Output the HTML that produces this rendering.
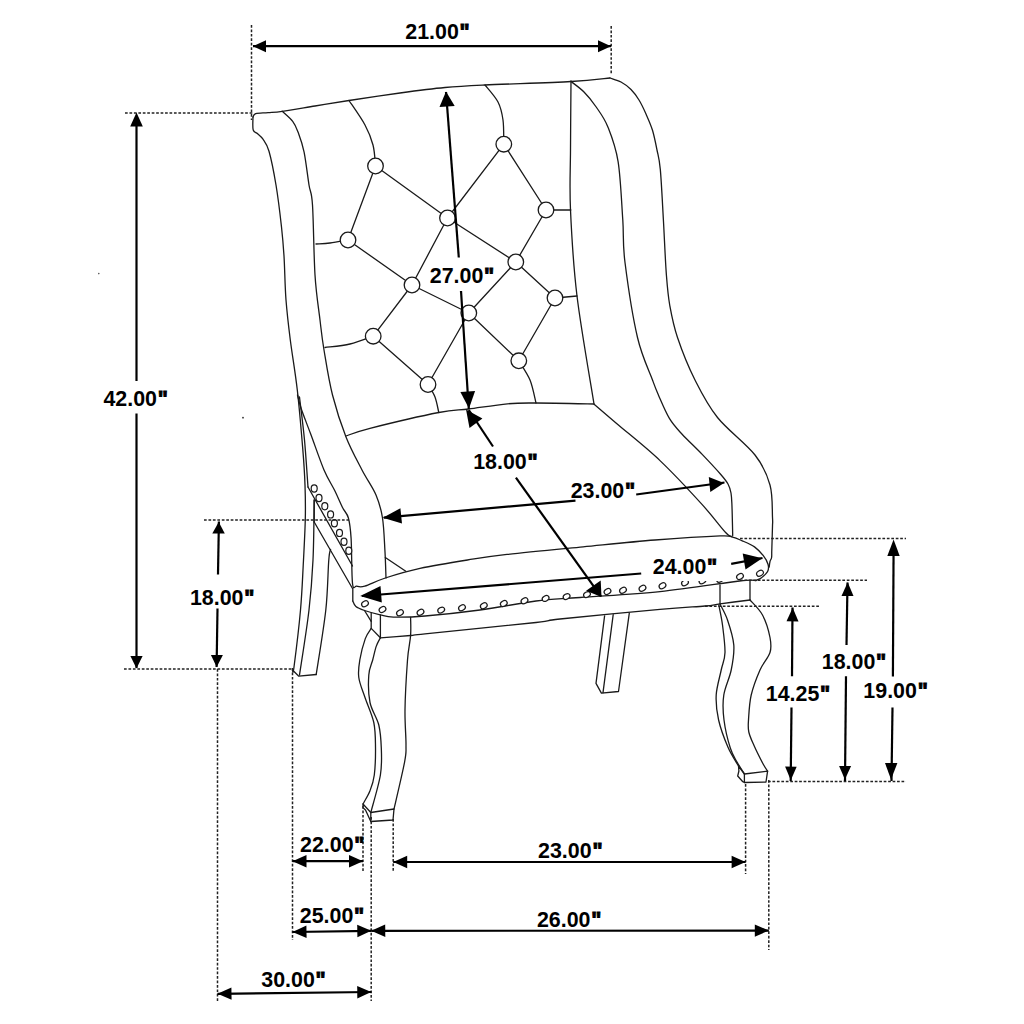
<!DOCTYPE html><html><head><meta charset="utf-8"><style>html,body{margin:0;padding:0;background:#fff;}svg{display:block;}</style></head><body>
<svg width="1024" height="1024" viewBox="0 0 1024 1024">
<rect width="1024" height="1024" fill="#fff"/>
<g fill="none" stroke="#1a1a1a" stroke-width="1.3" stroke-linejoin="round" stroke-linecap="round">
<path d="M253.0,117.0 C253.5,116.4 253.3,114.3 255.8,113.6 C258.3,112.9 263.6,113.0 268.0,112.6 C272.4,112.2 274.4,112.4 282.2,111.3 C290.0,110.2 303.9,107.8 315.0,106.0 C326.1,104.2 334.8,102.7 349.0,100.5 C363.2,98.3 384.0,95.2 400.0,93.0 C416.0,90.8 430.8,88.8 445.0,87.5 C459.2,86.2 464.0,86.0 485.0,85.0 C506.0,84.0 550.2,82.7 571.0,81.5 C591.8,80.3 603.5,78.6 610.0,78.0"/>
<path d="M253.0,117.0 C253.0,119.2 252.4,127.2 253.2,130.0 C254.0,132.8 256.0,132.2 257.6,133.7 C259.2,135.2 260.9,136.0 262.8,138.9 C264.7,141.8 266.8,143.5 269.0,151.2 C271.2,158.9 273.9,172.4 276.0,185.0 C278.1,197.6 280.2,215.2 281.5,227.0 C282.8,238.8 283.2,243.8 284.0,256.0 C284.8,268.2 284.9,286.0 286.0,300.0 C287.1,314.0 288.4,325.0 290.3,340.0 C292.2,355.0 295.2,371.8 297.3,390.0 C299.4,408.2 301.5,433.6 302.8,449.4 C304.1,465.2 304.6,473.4 305.0,485.0 C305.4,496.6 305.6,505.6 305.3,519.0 C305.0,532.5 304.0,550.5 303.2,565.7 C302.4,580.9 302.0,593.1 300.5,610.0 C299.0,626.9 295.3,657.0 294.0,667.0 C292.7,677.0 292.8,669.5 292.5,670.0"/>
<path d="M299.5,397.0 C300.3,404.2 303.1,425.0 304.5,440.0 C305.9,455.0 307.4,479.2 308.0,487.0"/>
<path d="M297.5,395.0 C298.1,397.3 299.1,402.3 301.2,408.8 C303.4,415.2 306.8,423.6 310.6,433.8 C314.4,443.9 319.9,460.2 323.9,469.7 C327.9,479.2 331.6,484.2 334.7,490.5 C337.8,496.8 340.2,502.9 342.5,507.5 C344.8,512.1 347.0,512.9 348.4,518.0 C349.8,523.1 350.4,527.5 351.1,538.4 C351.8,549.3 351.6,575.5 352.5,583.5 C353.4,591.5 354.6,585.8 356.6,586.2 C358.7,586.7 360.0,587.6 364.8,586.2 C369.6,584.8 376.1,581.0 385.3,578.0 C394.5,575.0 406.3,571.4 420.0,568.4 C433.7,565.4 453.0,562.3 467.5,560.0 C482.0,557.7 487.7,556.6 507.0,554.4 C526.3,552.2 558.4,549.2 583.1,546.8 C607.8,544.4 632.1,541.8 655.0,540.0 C677.9,538.2 707.3,536.4 720.2,535.9 C733.1,535.4 728.8,536.4 732.5,537.2 C736.2,538.0 738.5,539.2 742.2,540.8 C745.9,542.4 751.0,544.4 754.5,546.9 C758.0,549.4 761.0,552.8 763.3,555.7 C765.6,558.6 767.4,561.9 768.1,564.5 C768.8,567.1 768.7,569.3 767.6,571.5 C766.5,573.7 763.4,576.2 761.5,577.7 C759.6,579.2 756.9,580.0 756.0,580.5"/>
<path d="M314.2,500.0 L314.2,522.0"/>
<path d="M352.8,601.0 C353.3,601.9 353.9,605.0 355.9,606.6 C357.8,608.2 360.4,609.1 364.5,610.5 C368.6,611.9 375.4,613.7 380.2,614.8 C385.0,615.9 385.9,616.9 393.4,617.1 C400.9,617.3 410.6,617.2 425.0,616.0 C439.4,614.8 461.5,612.5 480.0,610.0 C498.5,607.5 519.3,603.1 536.0,601.0 C552.7,598.9 559.3,599.1 580.0,597.5 C600.7,595.9 633.4,594.4 660.0,591.6 C686.6,588.9 723.5,582.9 739.5,581.0 C755.5,579.1 753.2,580.6 756.0,580.5"/>
<path d="M314.2,500.0 C314.0,510.0 313.9,541.7 313.0,560.0 C312.1,578.3 311.2,590.8 309.0,610.0 C306.8,629.2 301.1,664.2 299.5,675.0"/>
<path d="M330.6,549.3 C330.3,551.1 329.6,549.9 328.8,560.0 C327.9,570.1 327.9,590.9 325.8,610.0 C323.7,629.1 317.8,663.8 316.2,674.5"/>
<path d="M282.2,111.3 C283.9,113.0 290.1,118.0 292.7,121.4 C295.3,124.8 296.1,126.8 298.0,131.9 C299.9,137.0 302.3,143.2 304.1,152.1 C305.9,160.9 307.6,176.2 309.0,185.0 C310.4,193.8 311.5,190.0 312.5,205.0 C313.5,220.0 313.8,255.8 315.0,275.0 C316.2,294.2 318.5,307.5 320.0,320.0 C321.5,332.5 321.9,337.5 324.0,350.0 C326.1,362.5 328.8,380.5 332.5,395.0 C336.2,409.5 341.1,424.5 346.0,437.0 C350.9,449.5 357.0,460.3 362.0,470.0 C367.0,479.7 372.6,487.0 376.0,495.0 C379.4,503.0 381.0,508.5 382.5,518.0 C384.0,527.5 384.4,542.0 385.0,552.0 C385.6,562.0 385.8,573.7 386.0,578.0"/>
<path d="M610.0,78.0 C611.8,78.7 617.5,80.1 621.0,82.0 C624.5,83.9 628.0,86.5 631.0,89.5 C634.0,92.5 636.5,95.9 639.0,100.0 C641.5,104.1 643.8,109.0 646.0,114.0 C648.2,119.0 650.7,124.3 652.5,130.3 C654.3,136.3 655.7,143.5 657.0,150.0 C658.3,156.5 659.2,157.7 660.3,169.4 C661.4,181.1 662.4,202.4 663.4,220.0 C664.4,237.6 665.3,260.8 666.4,275.0 C667.5,289.2 667.9,294.6 669.7,305.0 C671.6,315.4 673.3,325.0 677.5,337.5 C681.7,350.0 688.3,366.7 695.0,380.0 C701.7,393.3 707.5,405.0 717.5,417.5 C727.5,430.0 746.2,443.8 755.0,455.0 C763.8,466.2 767.1,474.6 770.0,485.0 C772.9,495.4 772.1,510.7 772.5,517.5 C772.9,524.3 772.6,520.6 772.5,526.0 C772.4,531.4 771.9,544.8 771.8,550.0 C771.6,555.2 771.9,555.6 771.6,557.5 C771.3,559.4 770.4,559.9 770.0,561.5 C769.6,563.1 769.3,566.1 769.2,567.0"/>
<path d="M571.0,81.5 C573.2,83.2 579.8,87.8 584.0,92.0 C588.2,96.2 592.2,101.1 596.2,107.0 C600.2,112.9 604.4,118.1 608.0,127.2 C611.6,136.3 615.6,146.1 618.1,161.6 C620.6,177.1 621.6,203.2 622.8,220.0 C623.9,236.8 622.5,242.9 625.0,262.5 C627.5,282.1 632.9,317.9 637.5,337.5 C642.1,357.1 649.0,370.4 652.5,380.0 C656.0,389.6 655.6,388.6 658.4,395.0 C661.2,401.4 665.5,411.9 669.4,418.4 C673.3,424.9 676.4,428.0 681.9,434.0 C687.4,440.0 695.7,447.6 702.2,454.4 C708.7,461.2 716.7,469.8 721.0,474.7 C725.3,479.6 726.3,480.9 728.0,484.0 C729.7,487.1 730.4,489.6 731.0,493.0 C731.6,496.4 731.6,497.3 731.9,504.4 C732.2,511.5 732.6,530.4 732.7,535.6"/>
<path d="M571.0,81.0 C570.9,92.5 570.6,128.5 570.5,150.0 C570.4,171.5 569.4,185.7 570.5,210.0 C571.6,234.3 573.1,263.7 577.0,296.0 C580.9,328.3 591.2,386.0 594.0,404.0"/>
<path d="M346.0,436.0 C350.0,434.7 354.5,432.2 370.0,428.3 C385.5,424.4 422.3,415.7 438.8,412.5 C455.2,409.3 457.3,410.5 468.8,409.0 C480.2,407.5 496.3,404.8 507.5,403.8 C518.7,402.8 521.6,403.0 536.0,403.0 C550.4,403.0 584.3,403.8 594.0,404.0"/>
<path d="M594.4,404.4 C598.0,407.5 605.1,413.6 616.0,423.0 C626.9,432.4 645.7,447.0 660.0,460.6 C674.3,474.2 691.1,492.4 702.0,504.4 C712.9,516.4 720.6,527.2 725.6,532.5 C730.6,537.8 730.9,535.8 732.0,536.4"/>
<path d="M380.4,637.8 C385.4,637.4 403.2,636.1 410.6,635.5 C418.0,634.9 404.1,636.1 425.0,633.9 C445.9,631.7 513.5,625.0 536.0,622.5 C558.5,620.0 539.3,621.2 560.0,619.0 C580.7,616.8 635.8,611.5 660.0,609.3 C684.2,607.1 695.0,606.9 705.0,606.0 C715.0,605.1 712.5,604.8 720.0,603.8 C727.5,602.8 745.0,600.6 750.0,600.0"/>
<path d="M410.6,617.5 C410.6,620.5 411.1,628.4 410.6,635.5 C410.1,642.6 408.4,647.6 407.5,660.0 C406.6,672.4 405.2,695.8 405.0,710.0 C404.8,724.2 406.1,736.3 406.0,745.0 C405.9,753.7 406.6,751.3 404.6,762.0 C402.6,772.7 395.8,801.2 394.0,809.0"/>
<path d="M371.2,628.4 C370.2,630.1 367.2,633.3 365.3,638.6 C363.4,643.9 360.9,653.5 359.8,660.0 C358.7,666.5 357.9,671.2 358.8,677.5 C359.6,683.8 362.5,690.0 365.0,697.5 C367.5,705.0 372.0,714.2 373.8,722.5 C375.5,730.8 375.4,738.2 375.5,747.0 C375.6,755.8 375.2,767.7 374.3,775.0 C373.4,782.3 371.8,786.2 369.9,791.0 C368.0,795.8 364.1,801.8 363.0,804.0"/>
<path d="M380.4,637.8 C379.7,639.2 377.5,642.7 376.2,646.4 C375.0,650.1 373.9,655.2 372.7,660.0 C371.4,664.8 369.2,667.9 368.8,675.0 C368.3,682.1 368.3,694.2 370.0,702.5 C371.7,710.8 376.9,717.4 378.8,725.0 C380.6,732.6 381.0,739.7 381.3,748.0 C381.6,756.3 382.1,764.2 380.4,775.0 C378.6,785.8 372.4,806.2 370.8,812.5"/>
<path d="M750.0,600.0 C752.1,602.5 759.2,608.8 762.5,615.0 C765.8,621.2 768.8,631.2 770.0,637.5 C771.2,643.8 771.7,647.1 770.0,652.5 C768.3,657.9 763.1,662.9 760.0,670.0 C756.9,677.1 753.2,686.7 751.2,695.0 C749.3,703.3 748.9,713.8 748.5,720.0 C748.1,726.2 747.9,727.8 748.8,732.0 C749.7,736.2 751.4,739.7 753.8,745.0 C756.1,750.3 760.7,759.4 763.0,763.8 C765.3,768.1 766.8,770.0 767.6,771.2"/>
<path d="M720.0,604.0 C721.2,606.7 725.2,613.2 727.5,620.0 C729.8,626.8 733.1,636.7 733.8,645.0 C734.4,653.3 732.9,661.7 731.2,670.0 C729.6,678.3 725.0,686.7 723.8,695.0 C722.5,703.3 722.9,711.2 724.0,720.0 C725.1,728.8 728.1,741.0 730.3,748.0 C732.5,755.0 734.6,757.7 737.0,762.0 C739.4,766.3 743.2,772.0 744.4,774.0"/>
<path d="M718.8,605.0 C719.4,608.3 721.5,617.1 722.5,625.0 C723.5,632.9 725.2,645.0 725.0,652.5 C724.8,660.0 722.7,662.9 721.2,670.0 C719.8,677.1 716.7,686.7 716.2,695.0 C715.8,703.3 716.6,711.3 718.6,720.0 C720.6,728.7 724.7,739.6 728.0,747.3 C731.3,755.0 736.8,762.9 738.5,766.0"/>
<path d="M349.0,100.5 C351.7,104.6 361.0,117.6 365.0,125.0 C369.0,132.4 371.2,138.2 373.0,145.0 C374.8,151.8 375.1,162.5 375.5,166.0"/>
<path d="M485.0,85.0 C487.2,87.8 495.0,96.2 498.0,102.0 C501.0,107.8 502.0,113.0 503.0,120.0 C504.0,127.0 503.6,140.0 503.8,144.0"/>
<path d="M348.0,240.0 C345.0,240.5 335.3,242.3 330.0,243.0 C324.7,243.7 318.3,243.8 316.0,244.0"/>
<path d="M373.2,336.2 C369.4,337.5 358.0,342.1 350.0,344.0 C342.0,345.9 329.2,346.9 325.0,347.5"/>
<path d="M428.0,384.5 C429.2,386.6 433.2,392.3 435.0,397.0 C436.8,401.7 438.1,409.9 438.8,412.5"/>
<path d="M518.8,360.8 C520.6,364.0 527.1,373.0 530.0,380.0 C532.9,387.0 535.0,399.2 536.0,403.0"/>
<path d="M292.5,670.0 L298.8,676.2 L316.2,674.5"/>
<path d="M308.0,487.0 L352.5,566.0"/>
<path d="M314.2,522.0 L352.8,589.0 L352.8,601.0"/>
<path d="M385.3,557.5 L405.8,571.2"/>
<path d="M364.5,610.5 L371.2,621.4"/>
<path d="M371.2,612.8 L371.2,628.4 L380.4,637.8"/>
<path d="M380.4,615.0 L380.4,637.8"/>
<path d="M750.0,581.0 L750.0,600.0"/>
<path d="M720.0,585.0 L720.0,603.8"/>
<path d="M363.0,804.0 L363.0,807.7 L365.5,810.0 L370.8,821.5 L393.0,820.0 L394.0,809.0 L370.8,812.5 L363.0,804.0"/>
<path d="M370.8,812.5 L370.8,821.5"/>
<path d="M738.5,766.0 L738.9,771.0 L737.7,776.0 L742.8,781.7 L744.4,782.5 L766.0,782.0 L767.6,771.2 L744.4,774.0 L738.5,766.0"/>
<path d="M744.4,774.0 L744.4,782.5"/>
<path d="M604.6,615.8 L596.0,683.4 L601.4,693.1 L618.5,691.5 L629.3,613.1"/>
<path d="M613.2,614.7 L603.0,692.6"/>
<path d="M375.5,166.0 L348.0,240.0"/>
<path d="M375.5,166.0 L447.5,218.0"/>
<path d="M503.8,144.2 L447.5,218.0"/>
<path d="M503.8,144.2 L546.0,210.0"/>
<path d="M348.0,240.0 L412.0,285.0"/>
<path d="M447.5,218.0 L412.0,285.0"/>
<path d="M447.5,218.0 L515.8,262.0"/>
<path d="M546.0,210.0 L515.8,262.0"/>
<path d="M412.0,285.0 L373.2,336.2"/>
<path d="M412.0,285.0 L468.8,313.0"/>
<path d="M515.8,262.0 L468.8,313.0"/>
<path d="M515.8,262.0 L555.0,298.0"/>
<path d="M373.2,336.2 L428.0,384.5"/>
<path d="M468.8,313.0 L428.0,384.5"/>
<path d="M468.8,313.0 L518.8,360.8"/>
<path d="M555.0,298.0 L518.8,360.8"/>
<path d="M546.0,210.0 L570.8,210.0"/>
<path d="M555.0,298.0 L577.0,296.0"/>
</g>
<g fill="#fff" stroke="#1a1a1a" stroke-width="1.3">
<circle cx="375.5" cy="166.0" r="7.8"/>
<circle cx="503.8" cy="144.2" r="7.8"/>
<circle cx="348.0" cy="240.0" r="7.8"/>
<circle cx="447.5" cy="218.0" r="7.8"/>
<circle cx="546.0" cy="210.0" r="7.8"/>
<circle cx="412.0" cy="285.0" r="7.8"/>
<circle cx="515.8" cy="262.0" r="7.8"/>
<circle cx="373.2" cy="336.2" r="7.8"/>
<circle cx="468.8" cy="313.0" r="7.8"/>
<circle cx="555.0" cy="298.0" r="7.8"/>
<circle cx="428.0" cy="384.5" r="7.8"/>
<circle cx="518.8" cy="360.8" r="7.8"/>
</g>
<g fill="#fff" stroke="#1a1a1a" stroke-width="1.2">
<ellipse cx="365.0" cy="603.8" rx="3.6" ry="2.6" transform="rotate(-30 365.0 603.8)"/>
<ellipse cx="382.5" cy="609.5" rx="3.6" ry="2.6" transform="rotate(-30 382.5 609.5)"/>
<ellipse cx="400.0" cy="612.8" rx="3.6" ry="2.6" transform="rotate(-30 400.0 612.8)"/>
<ellipse cx="420.5" cy="612.3" rx="3.6" ry="2.6" transform="rotate(-30 420.5 612.3)"/>
<ellipse cx="441.2" cy="610.1" rx="3.6" ry="2.6" transform="rotate(-30 441.2 610.1)"/>
<ellipse cx="462.0" cy="607.8" rx="3.6" ry="2.6" transform="rotate(-30 462.0 607.8)"/>
<ellipse cx="483.8" cy="605.8" rx="3.6" ry="2.6" transform="rotate(-30 483.8 605.8)"/>
<ellipse cx="503.8" cy="603.5" rx="3.6" ry="2.6" transform="rotate(-30 503.8 603.5)"/>
<ellipse cx="524.5" cy="600.8" rx="3.6" ry="2.6" transform="rotate(-30 524.5 600.8)"/>
<ellipse cx="545.6" cy="598.4" rx="3.6" ry="2.6" transform="rotate(-30 545.6 598.4)"/>
<ellipse cx="566.6" cy="596.6" rx="3.6" ry="2.6" transform="rotate(-30 566.6 596.6)"/>
<ellipse cx="587.0" cy="594.6" rx="3.6" ry="2.6" transform="rotate(-30 587.0 594.6)"/>
<ellipse cx="607.5" cy="591.5" rx="3.6" ry="2.6" transform="rotate(-30 607.5 591.5)"/>
<ellipse cx="623.0" cy="590.3" rx="3.6" ry="2.6" transform="rotate(-30 623.0 590.3)"/>
<ellipse cx="642.5" cy="588.3" rx="3.6" ry="2.6" transform="rotate(-30 642.5 588.3)"/>
<ellipse cx="662.5" cy="585.8" rx="3.6" ry="2.6" transform="rotate(-30 662.5 585.8)"/>
<ellipse cx="685.0" cy="582.8" rx="3.6" ry="2.6" transform="rotate(-30 685.0 582.8)"/>
<ellipse cx="702.5" cy="580.8" rx="3.6" ry="2.6" transform="rotate(-30 702.5 580.8)"/>
<ellipse cx="720.0" cy="579.3" rx="3.6" ry="2.6" transform="rotate(-30 720.0 579.3)"/>
<ellipse cx="740.0" cy="576.5" rx="3.6" ry="2.6" transform="rotate(-30 740.0 576.5)"/>
<ellipse cx="760.0" cy="573.3" rx="3.6" ry="2.6" transform="rotate(-30 760.0 573.3)"/>
<ellipse cx="314.2" cy="488.5" rx="3" ry="3.6"/>
<ellipse cx="319.0" cy="498.0" rx="3" ry="3.6"/>
<ellipse cx="324.8" cy="506.2" rx="3" ry="3.6"/>
<ellipse cx="330.6" cy="514.4" rx="3" ry="3.6"/>
<ellipse cx="334.4" cy="523.3" rx="3" ry="3.6"/>
<ellipse cx="339.5" cy="532.9" rx="3" ry="3.6"/>
<ellipse cx="344.0" cy="541.8" rx="3" ry="3.6"/>
<ellipse cx="348.8" cy="550.7" rx="3" ry="3.6"/>
</g>
<rect x="641" y="548" width="88" height="33" fill="#fff"/>
<circle cx="98.8" cy="273.6" r="0.8" fill="#555"/><circle cx="243" cy="417.7" r="0.9" fill="#333"/>
<g stroke="#222" stroke-width="1.5" stroke-dasharray="2.7 1.75" fill="none">
<path d="M251.5,25.0 L251.5,120.0"/>
<path d="M125.0,113.0 L254.0,113.0"/>
<path d="M611.2,26.0 L611.2,75.0"/>
<path d="M204.0,520.0 L349.0,520.0"/>
<path d="M124.0,669.0 L292.0,669.0"/>
<path d="M217.5,669.0 L217.5,1001.0"/>
<path d="M292.5,668.0 L292.5,940.0"/>
<path d="M363.0,806.0 L363.0,871.0"/>
<path d="M371.2,817.0 L371.2,1001.0"/>
<path d="M393.2,819.0 L393.2,871.0"/>
<path d="M740.0,538.5 L906.0,538.5"/>
<path d="M740.0,580.3 L867.0,580.3"/>
<path d="M705.0,606.2 L820.0,606.2"/>
<path d="M768.0,781.5 L906.0,781.5"/>
<path d="M745.6,784.0 L745.6,874.0"/>
<path d="M768.8,780.0 L768.8,950.0"/>
</g>
<g stroke="#000" stroke-width="2.2" fill="none" stroke-linecap="butt">
<path d="M253.0,46.2 L611.0,46.2"/>
<path d="M136.5,118.0 L136.5,381.0"/>
<path d="M136.5,413.5 L136.5,668.0"/>
<path d="M446.0,92.0 L458.8,257.5"/>
<path d="M461.0,291.0 L468.8,409.0"/>
<path d="M468.8,410.0 L493.0,446.5"/>
<path d="M515.9,477.7 L600.9,596.3"/>
<path d="M383.8,517.6 L575.5,500.6"/>
<path d="M636.2,494.5 L724.5,482.5"/>
<path d="M362.0,596.0 L641.2,573.5"/>
<path d="M731.2,563.8 L762.5,558.0"/>
<path d="M218.9,521.5 L218.0,574.6"/>
<path d="M217.5,608.5 L216.6,667.1"/>
<path d="M893.6,545.0 L892.9,676.5"/>
<path d="M892.5,707.5 L891.5,781.0"/>
<path d="M847.5,582.5 L846.5,645.0"/>
<path d="M846.0,676.2 L845.0,781.0"/>
<path d="M792.5,607.5 L792.0,676.2"/>
<path d="M791.5,707.5 L790.7,781.0"/>
<path d="M292.5,861.2 L363.0,861.2"/>
<path d="M393.2,862.0 L745.6,862.0"/>
<path d="M292.5,932.0 L371.2,930.8"/>
<path d="M371.2,930.8 L768.8,930.6"/>
<path d="M217.5,993.8 L371.2,992.0"/>
</g>
<g fill="#000" stroke="none">
<path d="M253.0,46.2 L266.0,52.2 L266.0,40.2 Z"/>
<path d="M611.0,46.2 L598.0,40.2 L598.0,52.2 Z"/>
<path d="M136.5,112.5 L130.2,126.5 L142.8,126.5 Z"/>
<path d="M136.5,668.5 L142.6,656.0 L130.4,656.0 Z"/>
<path d="M446.0,91.5 L439.5,107.0 L454.7,105.9 Z"/>
<path d="M469.0,408.5 L475.1,391.0 L460.4,392.1 Z"/>
<path d="M466.0,409.5 L469.5,428.0 L482.4,418.6 Z"/>
<path d="M601.5,597.0 L600.7,580.4 L586.1,590.8 Z"/>
<path d="M382.8,517.8 L402.0,523.6 L400.4,508.2 Z"/>
<path d="M724.0,483.0 L708.8,477.0 L710.3,491.9 Z"/>
<path d="M360.2,596.0 L381.8,602.5 L380.5,586.1 Z"/>
<path d="M762.3,558.3 L742.7,553.6 L745.5,569.4 Z"/>
<path d="M218.7,522.0 L212.3,533.4 L224.8,533.6 Z"/>
<path d="M216.7,667.0 L222.9,655.1 L210.9,654.9 Z"/>
<path d="M893.6,539.5 L887.3,555.9 L899.7,556.1 Z"/>
<path d="M891.0,779.5 L897.4,763.1 L885.0,762.9 Z"/>
<path d="M847.7,582.3 L841.5,595.9 L853.5,596.1 Z"/>
<path d="M844.9,779.6 L851.1,766.1 L839.1,765.9 Z"/>
<path d="M792.7,607.7 L786.5,621.2 L798.5,621.4 Z"/>
<path d="M790.8,780.3 L796.7,766.8 L785.1,766.6 Z"/>
<path d="M292.5,861.2 L306.5,867.5 L306.5,855.0 Z"/>
<path d="M363.0,861.2 L349.0,855.0 L349.0,867.5 Z"/>
<path d="M393.2,862.0 L407.2,868.2 L407.2,855.8 Z"/>
<path d="M745.6,862.0 L731.6,855.8 L731.6,868.2 Z"/>
<path d="M292.5,932.0 L306.6,938.0 L306.4,925.6 Z"/>
<path d="M371.2,930.8 L357.2,924.8 L357.4,937.2 Z"/>
<path d="M371.2,930.8 L385.3,936.9 L385.2,924.5 Z"/>
<path d="M768.8,930.6 L754.8,924.4 L754.8,936.8 Z"/>
<path d="M217.5,993.8 L231.6,999.8 L231.4,987.4 Z"/>
<path d="M371.2,992.0 L357.2,986.0 L357.3,998.4 Z"/>
</g>
<g font-family="Liberation Sans, sans-serif" font-weight="bold" font-size="21.4" fill="#000">
<text x="0" y="0" text-anchor="middle" transform="translate(437.50 38.50) scale(1 1.000)">21.00<tspan dx="0.8" stroke="#000" stroke-width="0.9">&quot;</tspan></text>
<text x="0" y="0" text-anchor="middle" transform="translate(462.00 282.50) scale(1 1.000)">27.00<tspan dx="0.8" stroke="#000" stroke-width="0.9">&quot;</tspan></text>
<text x="0" y="0" text-anchor="middle" transform="translate(135.70 405.50) scale(1 1.000)">42.00<tspan dx="0.8" stroke="#000" stroke-width="0.9">&quot;</tspan></text>
<text x="0" y="0" text-anchor="middle" transform="translate(505.40 468.70) scale(1 1.000)">18.00<tspan dx="0.8" stroke="#000" stroke-width="0.9">&quot;</tspan></text>
<text x="0" y="0" text-anchor="middle" transform="translate(602.90 498.10) scale(1 1.000)">23.00<tspan dx="0.8" stroke="#000" stroke-width="0.9">&quot;</tspan></text>
<text x="0" y="0" text-anchor="middle" transform="translate(685.00 574.00) scale(1 1.000)">24.00<tspan dx="0.8" stroke="#000" stroke-width="0.9">&quot;</tspan></text>
<text x="0" y="0" text-anchor="middle" transform="translate(222.20 604.70) scale(1 1.000)">18.00<tspan dx="0.8" stroke="#000" stroke-width="0.9">&quot;</tspan></text>
<text x="0" y="0" text-anchor="middle" transform="translate(854.00 669.00) scale(1 1.000)">18.00<tspan dx="0.8" stroke="#000" stroke-width="0.9">&quot;</tspan></text>
<text x="0" y="0" text-anchor="middle" transform="translate(895.60 697.70) scale(1 1.000)">19.00<tspan dx="0.8" stroke="#000" stroke-width="0.9">&quot;</tspan></text>
<text x="0" y="0" text-anchor="middle" transform="translate(798.00 700.50) scale(1 1.000)">14.25<tspan dx="0.8" stroke="#000" stroke-width="0.9">&quot;</tspan></text>
<text x="0" y="0" text-anchor="middle" transform="translate(332.25 852.00) scale(1 1.000)">22.00<tspan dx="0.8" stroke="#000" stroke-width="0.9">&quot;</tspan></text>
<text x="0" y="0" text-anchor="middle" transform="translate(570.30 857.70) scale(1 1.000)">23.00<tspan dx="0.8" stroke="#000" stroke-width="0.9">&quot;</tspan></text>
<text x="0" y="0" text-anchor="middle" transform="translate(332.00 922.50) scale(1 1.000)">25.00<tspan dx="0.8" stroke="#000" stroke-width="0.9">&quot;</tspan></text>
<text x="0" y="0" text-anchor="middle" transform="translate(569.20 926.50) scale(1 1.000)">26.00<tspan dx="0.8" stroke="#000" stroke-width="0.9">&quot;</tspan></text>
<text x="0" y="0" text-anchor="middle" transform="translate(293.50 987.00) scale(1 1.000)">30.00<tspan dx="0.8" stroke="#000" stroke-width="0.9">&quot;</tspan></text>
</g>
</svg></body></html>
